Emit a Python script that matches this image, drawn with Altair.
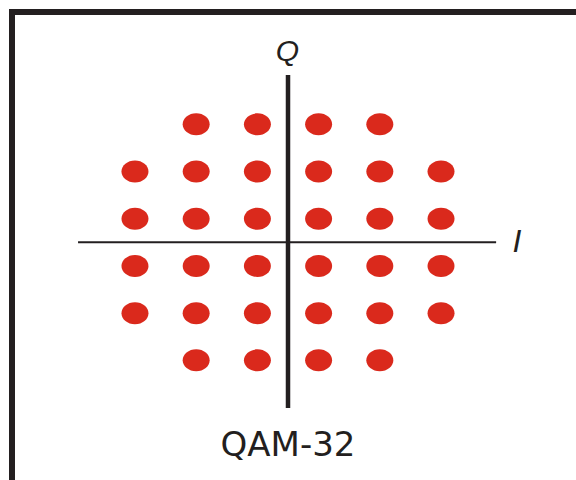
import altair as alt
import pandas as pd

# QAM-32 cross constellation: 6x6 grid of I/Q levels with the four corners removed
levels = [-5, -3, -1, 1, 3, 5]
corner = 5
i_vals = [i for q in levels for i in levels if not (abs(i) == corner and abs(q) == corner)]
q_vals = [q for q in levels for i in levels if not (abs(i) == corner and abs(q) == corner)]
points = pd.DataFrame({"I": i_vals, "Q": q_vals})

# axis extents and label anchors, in constellation units
h_axis = pd.DataFrame({"I": [-6.86], "I2": [6.8], "Q": [0]})
v_axis = pd.DataFrame({"I": [0], "Q": [7.09], "Q2": [-7.02]})
labels = pd.DataFrame({
    "text": ["Q", "I"],
    "I": [-0.02, 7.48],
    "Q": [8.05, 0.0],
    "size": [30, 32],
})
title = pd.DataFrame({"text": ["QAM-32"], "I": [0.0], "Q": [-9.05]})

W, H = 576, 480
x = alt.X("I:Q", scale=alt.Scale(domain=[-9.41, 9.41], nice=False, zero=False), axis=None)
y = alt.Y("Q:Q", scale=alt.Scale(domain=[-10.07, 10.27], nice=False, zero=False), axis=None)

ink = "#231f20"
red = "#da291c"
ellipse = "M-1,0 A1,0.815 0 1,1 1,0 A1,0.815 0 1,1 -1,0 Z"

base = alt.Chart(points)

dots = base.mark_point(shape=ellipse, filled=True, fill=red, stroke=None, opacity=1, size=729).encode(x=x, y=y)

hline = alt.Chart(h_axis).mark_rule(color=ink, strokeWidth=2).encode(x=x, x2="I2:Q", y=y)
vline = alt.Chart(v_axis).mark_rule(color=ink, strokeWidth=4.5).encode(x=x, y=y, y2="Q2:Q")

axis_labels = alt.Chart(labels).mark_text(
    font="Liberation Sans", fontStyle="italic", color=ink, baseline="middle", align="center"
).encode(x=x, y=y, text="text:N", size=alt.Size("size:Q", scale=None, legend=None))

caption = alt.Chart(title).mark_text(
    font="DejaVu Sans", fontSize=34, color=ink, baseline="alphabetic", align="center"
).encode(x=x, y=y, text="text:N")

# frame: only the left and top edges fall inside the picture
frame_left = alt.Chart(points).mark_rule(color=ink, strokeWidth=6).encode(
    x=alt.value(12), y=alt.value(9), y2=alt.value(H)
)
frame_top = alt.Chart(points).mark_rule(color=ink, strokeWidth=6).encode(
    x=alt.value(9), x2=alt.value(W), y=alt.value(12)
)

chart = alt.layer(frame_left, frame_top, hline, vline, dots, axis_labels, caption).properties(
    width=W, height=H, padding=0, autosize=alt.AutoSizeParams(type="none"), background="white"
).configure_view(stroke=None)

chart.save("out.html", embed_options={"renderer": "svg", "actions": False})
